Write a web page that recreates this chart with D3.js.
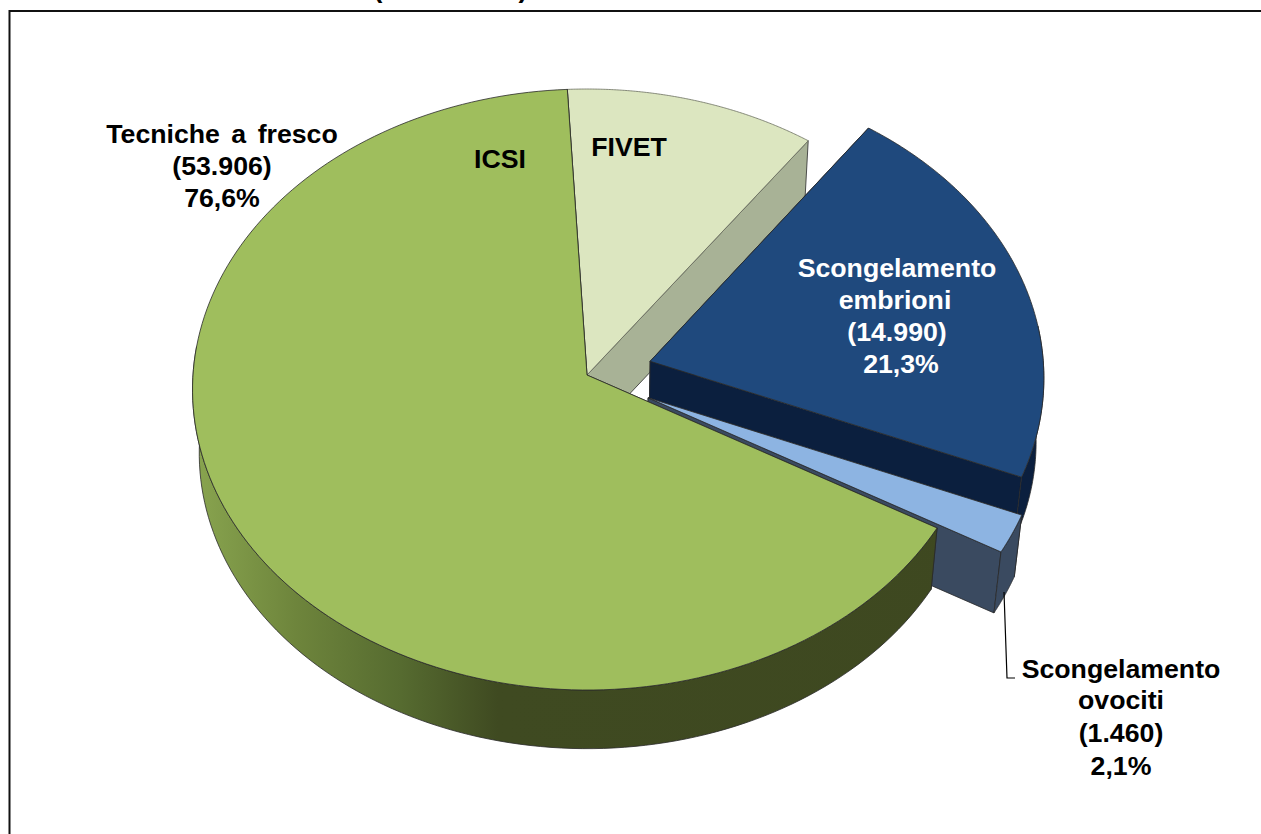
<!DOCTYPE html>
<html><head><meta charset="utf-8">
<script src="https://cdn.jsdelivr.net/npm/d3@7"></script>
<style>html,body{margin:0;padding:0;background:#fff;overflow:hidden}svg{display:block}
text{font-family:"Liberation Sans",Arial,sans-serif;font-weight:700;font-size:26.7px;text-anchor:middle;fill:#000}</style>
</head><body><div id="c"></div>
<script>
// Data (FIVET / ICSI split; their sum is 53.906)
const categories = ["FIVET","Scongelamento embrioni","Scongelamento ovociti","ICSI"];
const values = [7563,14990,1460,46343];
const topColors = ["#DCE6C0","#1F497D","#8DB4E2","#9FBE5D"];
const wallColors = ["#A8B296","#0B1F3E","#3A4A60","url(#greenSide)"];
const labelLines = [
  {lines:["Tecniche a fresco","(53.906)","76,6%"],x:[222,222,222],y:[143,175,207],fill:"#000"},
  {lines:["ICSI"],x:[500],y:[168],fill:"#000"},
  {lines:["FIVET"],x:[629],y:[156],fill:"#000"},
  {lines:["Scongelamento","embrioni","(14.990)","21,3%"],x:[897,895,897,901],y:[277,309,341,373],fill:"#fff"},
  {lines:["Scongelamento","ovociti","(1.460)","2,1%"],x:[1121,1121,1121,1121],y:[678,709,742,775],fill:"#000"}
];

const W=1261,H=834, cx=587, cy=375, Rx=394, Ry=299.8, k=0.0483, dropPx=64, shrink=0.017;
const explodeBy=[0,0.167,0.172,0];
const svg=d3.select("#c").append("svg").attr("width",W).attr("height",H);
const grad=svg.append("defs").append("linearGradient").attr("id","greenSide")
  .attr("gradientUnits","userSpaceOnUse").attr("x1",190).attr("x2",1000).attr("y1",0).attr("y2",0);
[[0,"#8AA650"],[0.13,"#6E853C"],[0.26,"#566B30"],[0.38,"#3F4A21"],[1,"#3E4820"]].forEach(s=>grad.append("stop").attr("offset",s[0]).attr("stop-color",s[1]));

const zDrop=d3.scaleLinear().domain([0,1]).range([0,dropPx]);
const zScale=d3.scaleLinear().domain([0,1]).range([1,1-shrink]);
function P(u,v,z){const w=1-k*v,s=zScale(z);return [cx+s*Rx*u/w, cy+zDrop(z)+s*Ry*v/w];}
const pie=d3.pie().sort(null).startAngle(-3*Math.PI/180).endAngle(357*Math.PI/180);
const arcs=pie(values);
const line=d3.line().curve(d3.curveLinear);

function geom(a,i){
  const mid=(a.startAngle+a.endAngle)/2,e=explodeBy[i];
  const ou=e*Math.sin(mid),ov=-e*Math.cos(mid);
  const steps=d3.range(0,161).map(t=>a.startAngle+(a.endAngle-a.startAngle)*t/160);
  const pt=(t,z)=>P(ou+Math.sin(t),ov-Math.cos(t),z);
  return {pt,apex:z=>P(ou,ov,z),
    rim:z=>steps.map(t=>pt(t,z)),
    frontRim:z=>steps.filter(t=>Math.cos(t)<0.12).map(t=>pt(t,z))};
}
const edge="#2a2a2a";
values.forEach((_,i)=>{
  const a=arcs[i],g=geom(a,i),wall=wallColors[i];
  const G=svg.append("g").attr("class","slice").attr("stroke",edge).attr("stroke-width",0.8).attr("stroke-linejoin","round");
  // radial walls
  [a.startAngle,a.endAngle].forEach(t=>{
    G.append("path").attr("fill",i===3?"#3E4820":wall)
     .attr("d",line([g.apex(0),g.pt(t,0),g.pt(t,1),g.apex(1)])+"Z");
  });
  // outer wall (only the part that faces the viewer)
  const ft=g.frontRim(0),fb=g.frontRim(1).reverse();
  if(ft.length) G.append("path").attr("fill",wall).attr("d",line(ft.concat(fb))+"Z");
  // top face
  G.append("path").attr("fill",topColors[i]).attr("stroke",i===0?"#6b6f60":edge)
   .attr("d",line([g.apex(0)].concat(g.rim(0)))+"Z");
});

// leader line
svg.append("path").attr("fill","none").attr("stroke","#000").attr("stroke-width",1.2)
  .attr("d",line([[1004,592],[1007,678],[1015,678]]));

// frame
svg.append("line").attr("x1",9.5).attr("x2",9.5).attr("y1",10).attr("y2",H).attr("stroke","#111").attr("stroke-width",2);
svg.append("line").attr("x1",9).attr("x2",W).attr("y1",11).attr("y2",11).attr("stroke","#111").attr("stroke-width",2);

// labels
labelLines.forEach(l=>l.lines.forEach((t,j)=>{
  svg.append("text").attr("x",l.x[j]).attr("y",l.y[j]).style("fill",l.fill)
    .style("word-spacing",t.includes(" ")?"4px":null).text(t);
}));
// remains of the cropped title
svg.append("text").attr("x",378).attr("y",-2).text("(");
svg.append("text").attr("x",523).attr("y",-2).text(")");
</script></body></html>
